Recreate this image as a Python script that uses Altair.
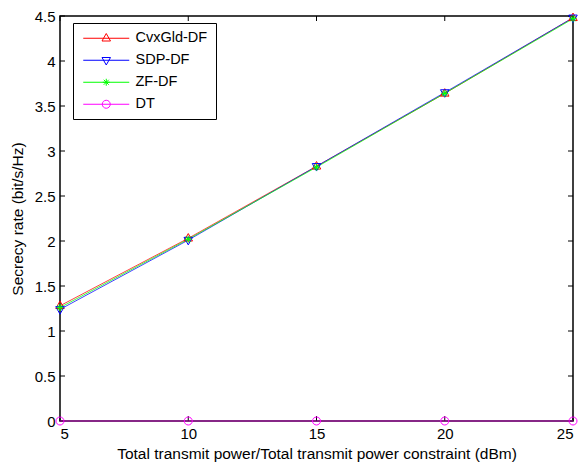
import altair as alt
import pandas as pd

x_vals = [5, 10, 15, 20, 25]
cvx_vals = [1.28, 2.03, 2.83, 3.64, 4.48]
sdp_vals = [1.24, 2.01, 2.83, 3.65, 4.48]
zf_vals = [1.26, 2.02, 2.82, 3.64, 4.47]
dt_vals = [0, 0, 0, 0, 0]
series = ["CvxGld-DF", "SDP-DF", "ZF-DF", "DT"]
colors = ["#FF0000", "#0000FF", "#00FF00", "#FF00FF"]
x_ticks = [5, 10, 15, 20, 25]
y_ticks = [0, 0.5, 1, 1.5, 2, 2.5, 3, 3.5, 4, 4.5]

FONT = "Liberation Sans"
W, H = 513, 405

rows = []
for name, vals in zip(series, [cvx_vals, sdp_vals, zf_vals, dt_vals]):
    for xv, yv in zip(x_vals, vals):
        rows.append({"x": xv, "y": yv, "s": name})
df = pd.DataFrame(rows)

# marker paths in a -1..1 box
tri_up = "M0,-0.95L0.85,0.55L-0.85,0.55Z"
tri_dn = "M0,0.95L0.85,-0.55L-0.85,-0.55Z"
star = "M0,-0.7L0,0.7M-0.7,0L0.7,0M-0.5,-0.5L0.5,0.5M-0.5,0.5L0.5,-0.5"
circ = "M-0.8,0A0.8,0.8,0,1,1,0.8,0A0.8,0.8,0,1,1,-0.8,0Z"
marker_paths = [tri_up, tri_dn, star, circ]
line_seg = "M-4.6,0L4.6,0"
legend_paths = [line_seg + p for p in marker_paths]

xs = alt.Scale(domain=[5, 25], nice=False, zero=False)
ys = alt.Scale(domain=[0, 4.5], nice=False)

xenc = alt.X("x:Q", scale=xs, axis=alt.Axis(
    values=x_ticks, format="~g", title="Total transmit power/Total transmit power constraint (dBm)",
    domain=False, ticks=False, grid=False, labelPadding=5,
    labelFont=FONT, labelFontSize=15, labelColor="black",
    titleFont=FONT, titleFontSize=15.5, titleFontWeight=400, titleColor="black",
    titleX=W / 2, titleY=32, titleBaseline="middle"))
yenc = alt.Y("y:Q", scale=ys, axis=alt.Axis(
    values=y_ticks, format="~g", title="Secrecy rate (bit/s/Hz)",
    domain=False, ticks=False, grid=False, labelPadding=5,
    labelFont=FONT, labelFontSize=15, labelColor="black",
    titleFont=FONT, titleFontSize=15.5, titleFontWeight=400, titleColor="black",
    titleX=-43, titleY=H / 2, titleBaseline="middle", titleAlign="center"))

base = alt.Chart(df)
lines = base.mark_line(strokeWidth=1, opacity=0.75).encode(
    x=xenc, y=yenc,
    color=alt.Color("s:N", scale=alt.Scale(domain=series, range=colors), legend=None),
    detail="s:N",
)
points = base.mark_point(filled=False, strokeWidth=1, size=100, opacity=1).encode(
    x=alt.X("x:Q", scale=xs), y=alt.Y("y:Q", scale=ys),
    color=alt.Color("s:N", scale=alt.Scale(domain=series, range=colors), legend=None),
    shape=alt.Shape("s:N", scale=alt.Scale(domain=series, range=marker_paths), legend=None),
)
legend_layer = base.transform_filter("false").mark_point(filled=False, strokeWidth=1, size=100, opacity=1).encode(
    x=alt.X("x:Q", scale=xs), y=alt.Y("y:Q", scale=ys),
    color=alt.Color("s:N", scale=alt.Scale(domain=series, range=colors),
                    legend=alt.Legend(orient="none", legendX=13, legendY=7, title=None,
                                      strokeColor="black", fillColor="white", padding=8,
                                      symbolSize=100, symbolStrokeWidth=1, symbolOffset=18,
                                      labelOffset=22, labelFontSize=14.5, labelFont=FONT,
                                      labelColor="black", rowPadding=7)),
    shape=alt.Shape("s:N", scale=alt.Scale(domain=series, range=legend_paths)),
)

xt = pd.DataFrame({"t": x_ticks})
yt = pd.DataFrame({"t": y_ticks})
tick_left = alt.Chart(yt).mark_rule(color="black", strokeWidth=1).encode(
    y=alt.Y("t:Q", scale=ys), x=alt.value(0), x2=alt.value(5))
tick_right = alt.Chart(yt).mark_rule(color="black", strokeWidth=1).encode(
    y=alt.Y("t:Q", scale=ys), x=alt.value(W - 5), x2=alt.value(W))
tick_bottom = alt.Chart(xt).mark_rule(color="black", strokeWidth=1).encode(
    x=alt.X("t:Q", scale=xs), y=alt.value(H - 5), y2=alt.value(H))
tick_top = alt.Chart(xt).mark_rule(color="black", strokeWidth=1).encode(
    x=alt.X("t:Q", scale=xs), y=alt.value(0), y2=alt.value(5))

chart = alt.layer(
    tick_left, tick_right, tick_bottom, tick_top, lines, points, legend_layer
).resolve_scale(color="independent", shape="independent").properties(
    width=W, height=H,
    padding={"left": 60, "top": 16, "right": 7, "bottom": 42},
    autosize=alt.AutoSizeParams(type="none"),
    background="white",
).configure_view(stroke="black", strokeWidth=1.5)

chart.save("out.html", embed_options={"renderer": "svg", "actions": False})
